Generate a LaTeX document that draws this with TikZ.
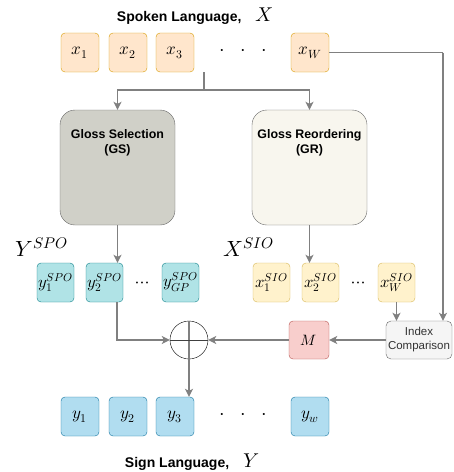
\documentclass[tikz,border=0pt]{standalone}
\usepackage{amsmath}
\usepackage{fontspec}
\usepackage{unicode-math}
\setmainfont{Liberation Sans}
\setmathfont{Latin Modern Math}
\usetikzlibrary{arrows.meta}

\definecolor{orangeF}{HTML}{FFE6CC}
\definecolor{orangeD}{HTML}{D79B00}
\definecolor{tealF}{HTML}{B0E3E6}
\definecolor{tealD}{HTML}{0E8088}
\definecolor{yellF}{HTML}{FFF2CC}
\definecolor{yellD}{HTML}{D6B656}
\definecolor{blueF}{HTML}{B1DDF0}
\definecolor{blueD}{HTML}{10739E}
\definecolor{redF}{HTML}{F8CECC}
\definecolor{redD}{HTML}{B85450}
\definecolor{greyF}{HTML}{F5F5F5}
\definecolor{greyD}{HTML}{666666}
\definecolor{gsF}{HTML}{D0D0C8}
\definecolor{grF}{HTML}{F8F6EE}
\definecolor{arrowC}{HTML}{808080}

\tikzset{
  tok/.style={draw,rounded corners=4pt,minimum width=38pt,minimum height=39pt,
    inner sep=0pt,font=\fontsize{17}{19}\selectfont},
  smalltok/.style={tok,minimum width=37pt,font=\fontsize{16.5}{18}\selectfont},
  block/.style={draw=greyD,rounded corners=15pt,minimum width=115pt,minimum height=115pt,
    inner sep=0pt,align=center,font=\bfseries\fontsize{12.4}{15}\selectfont},
  flow/.style={-{Stealth[length=8pt,width=8pt,inset=2pt]},draw=arrowC,line width=1.3pt},
  plain/.style={draw=arrowC,line width=1.3pt},
}

\begin{document}
\begin{tikzpicture}[x=1pt,y=-1pt]
    \useasboundingbox (0,0) rectangle (454,472);
    % Nodes
    \node (xtitle) at (195,16) {\bfseries\fontsize{14}{16}\selectfont Spoken Language,\quad\fontsize{20}{22}\selectfont$X$};
    \node (x1) at (80,52.5) [tok,fill=orangeF,draw=orangeD] {$x_1$};
    \node (x2) at (128,52.5) [tok,fill=orangeF,draw=orangeD] {$x_2$};
    \node (x3) at (175,52.5) [tok,fill=orangeF,draw=orangeD] {$x_3$};
    \node (xdots) at (243,52.5) {\fontsize{20}{22}\selectfont$\cdot\;\;\cdot\;\;\cdot$};
    \node (xw) at (310,52.5) [tok,fill=orangeF,draw=orangeD] {$x_W$};
    \node (gs) at (117.5,167.5) [block,fill=gsF] {Gloss Selection\\(GS)\\[32pt]\strut};
    \node (gr) at (309.5,167.5) [block,fill=grF] {Gloss Reordering\\(GR)\\[32pt]\strut};
    \node (ylabel) at (42,247) {\fontsize{22}{24}\selectfont$Y^{SPO}$};
    \node (xlabel) at (249,247) {\fontsize{22}{24}\selectfont$X^{SIO}$};
    \node (y1s) at (55.5,282.5) [smalltok,fill=tealF,draw=tealD] {$y_1^{SPO}$};
    \node (y2s) at (104.5,282.5) [smalltok,fill=tealF,draw=tealD] {$y_2^{SPO}$};
    \node (ysdots) at (142,285) {\fontsize{18}{20}\selectfont$\cdots$};
    \node (ygp) at (180.5,282.5) [smalltok,fill=tealF,draw=tealD] {$y_{GP}^{SPO}$};
    \node (x1s) at (271.5,282.5) [smalltok,fill=yellF,draw=yellD] {$x_1^{SIO}$};
    \node (x2s) at (320.5,282.5) [smalltok,fill=yellF,draw=yellD] {$x_2^{SIO}$};
    \node (xsdots) at (358,285) {\fontsize{18}{20}\selectfont$\cdots$};
    \node (xws) at (396.5,282.5) [smalltok,fill=yellF,draw=yellD] {$x_W^{SIO}$};
    \node (oplus) at (189,340) [circle,draw,minimum size=38pt,inner sep=0pt] {};
    \node (m) at (309,340) [tok,minimum width=40pt,minimum height=38pt,fill=redF,draw=redD,
      font=\fontsize{15}{17}\selectfont] {$M$};
    \node (idx) at (419,340) [draw=greyD,fill=greyF,rounded corners=5pt,minimum width=66pt,
      minimum height=38pt,inner sep=0pt,align=center,text=black!80,
      font=\fontsize{11.5}{14}\selectfont] {Index\\Comparison};
    \node (y1) at (80,416.5) [tok,fill=blueF,draw=blueD] {$y_1$};
    \node (y2) at (128,416.5) [tok,fill=blueF,draw=blueD] {$y_2$};
    \node (y3) at (175,416.5) [tok,fill=blueF,draw=blueD] {$y_3$};
    \node (ydots) at (243,416.5) {\fontsize{20}{22}\selectfont$\cdot\;\;\cdot\;\;\cdot$};
    \node (yw) at (310,416.5) [tok,fill=blueF,draw=blueD] {$y_w$};
    \node (ytitle) at (192,462) {\bfseries\fontsize{14}{16}\selectfont Sign Language,\quad\fontsize{20}{22}\selectfont$Y$};
    \coordinate (top) at (204,72);
    \coordinate (split) at (204,90);
    \coordinate (rc) at (443,52.5);
    \coordinate (turn) at (117,340);
    % Edges
    \path[plain] (top) -- (split);
    \path[flow] (split) -| (gs.north);
    \path[flow] (split) -| (gr.north);
    \path[flow] (gs.south) -- (gs.south |- y2s.north);
    \path[flow] (gr.south) -- (gr.south |- x2s.north);
    \path[plain] (xw.east) -- (rc);
    \path[flow] (rc) -- (rc |- idx.north);
    \path[flow] (xws.south) -- (xws.south |- idx.north);
    \path[flow] (idx.west) -- (m.east);
    \path[flow] (m.west) -- (oplus.east);
    \path[flow] (y2s.south -| turn) -- (turn) -- (oplus.west);
    \draw[arrowC,line width=1.3pt] (oplus.north) -- (oplus.south);
    \draw[black!75] (oplus.west) -- (oplus.east);
    \path[flow] (oplus.south) -- (oplus.south |- y3.north);
\end{tikzpicture}
\end{document}
